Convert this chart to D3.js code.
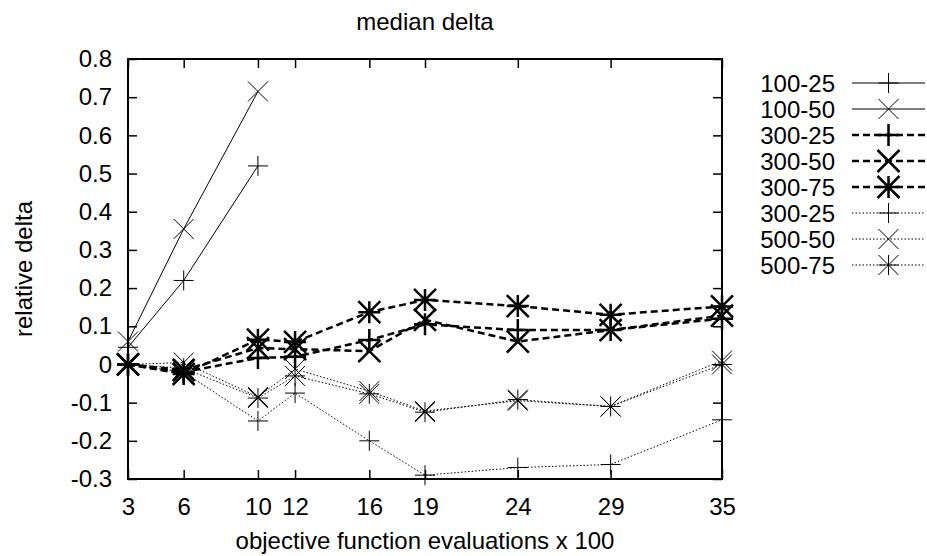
<!DOCTYPE html>
<html>
    <head>
        <script src="https://cdnjs.cloudflare.com/ajax/libs/d3/7.8.5/d3.min.js"></script>
        <title>median delta</title>
        <style>
            html, body {
                margin: 0;
                background: white;
            }
            .svg_canvas {
                display: block;
                font-family: "Liberation Sans", Arial, sans-serif;
            }
            .tick line {
                stroke: black;
                stroke-width: 1.5;
            }
            .tick text {
                font-size: 24px;
                fill: black;
            }
        </style>
    </head>
    <body>
        <svg height="556" width="927" class="svg_canvas"></svg>

        <script>
            var evaluations = [3, 6, 10, 12, 16, 19, 24, 29, 35];
            var yTicks = [-0.3, -0.2, -0.1, 0, 0.1, 0.2, 0.3, 0.4, 0.5, 0.6, 0.7, 0.8];

            var seriesNames = ["100-25", "100-50", "300-25", "300-50", "300-75", "300-25", "500-50", "500-75"];

            // values per series, aligned with evaluations (null = not measured)
            var s100_25 = [0.045, 0.22, 0.52, null, null, null, null, null, null];
            var s100_50 = [0.06, 0.355, 0.715, null, null, null, null, null, null];
            var s300_25 = [0, -0.02, 0.017, 0.02, 0.064, 0.105, 0.09, 0.09, 0.12];
            var s300_50 = [0, -0.015, 0.043, 0.04, 0.035, 0.117, 0.06, 0.09, 0.128];
            var s300_75 = [0, -0.025, 0.065, 0.059, 0.137, 0.169, 0.153, 0.13, 0.152];
            var s500_25 = [0, -0.02, -0.148, -0.075, -0.2, -0.29, -0.27, -0.262, -0.145];
            var s500_50 = [0, 0.005, -0.085, -0.012, -0.07, -0.122, -0.095, -0.11, 0.01];
            var s500_75 = [0, -0.01, -0.088, -0.03, -0.077, -0.125, -0.092, -0.11, 0.0];

            var seriesValues = [s100_25, s100_50, s300_25, s300_50, s300_75, s500_25, s500_50, s500_75];
            var seriesMarker = ["plus", "cross", "plus", "cross", "star", "plus", "cross", "star"];
            var seriesStyle = ["solid", "solid", "dashed", "dashed", "dashed", "dotted", "dotted", "dotted"];

            var styles = {
                solid:  {width: 1,   dash: null,  size: 10, mw: 1},
                dashed: {width: 2.5, dash: "7,4", size: 11, mw: 2.5},
                dotted: {width: 1,   dash: "1.5,2", size: 10, mw: 1}
            };

            var plotLeft = 128, plotRight = 722, plotTop = 59, plotBottom = 479;

            var x = d3.scaleLinear().domain([3, 35]).range([plotLeft, plotRight]);
            var y = d3.scaleLinear().domain([-0.3, 0.8]).range([plotBottom, plotTop]);

            var svg = d3.select(".svg_canvas");

            function markerPath(type, cx, cy, h) {
                var p = d3.path();
                if (type == "plus" || type == "star") {
                    p.moveTo(cx - h, cy); p.lineTo(cx + h, cy);
                    p.moveTo(cx, cy - h); p.lineTo(cx, cy + h);
                }
                if (type == "cross" || type == "star") {
                    p.moveTo(cx - h, cy - h); p.lineTo(cx + h, cy + h);
                    p.moveTo(cx - h, cy + h); p.lineTo(cx + h, cy - h);
                }
                return p.toString();
            }

            // axes with inward ticks on all four sides
            var fmt = function(d){ return String(+d.toFixed(1)); };

            svg.append("g")
                .attr("transform", "translate(0," + plotBottom + ")")
                .call(d3.axisBottom(x).tickValues(evaluations).tickSize(-9).tickPadding(19).tickFormat(d3.format("d")))
                .call(function(g){ g.select(".domain").remove(); });

            svg.append("g")
                .attr("transform", "translate(0," + plotTop + ")")
                .call(d3.axisTop(x).tickValues(evaluations).tickSize(-9).tickFormat(""))
                .call(function(g){ g.select(".domain").remove(); });

            svg.append("g")
                .attr("transform", "translate(" + plotLeft + ",0)")
                .call(d3.axisLeft(y).tickValues(yTicks).tickSize(-9).tickPadding(16).tickFormat(fmt))
                .call(function(g){ g.select(".domain").remove(); });

            svg.append("g")
                .attr("transform", "translate(" + plotRight + ",0)")
                .call(d3.axisRight(y).tickValues(yTicks).tickSize(-9).tickFormat(""))
                .call(function(g){ g.select(".domain").remove(); });

            svg.selectAll(".tick text").attr("font-family", null).attr("font-size", null);

            svg.append("rect")
                .attr("x", plotLeft).attr("y", plotTop)
                .attr("width", plotRight - plotLeft).attr("height", plotBottom - plotTop)
                .attr("fill", "none").attr("stroke", "black").attr("stroke-width", 2);

            // series
            var line = d3.line()
                .defined(function(d){ return d.v !== null; })
                .x(function(d){ return x(d.e); })
                .y(function(d){ return y(d.v); });

            seriesValues.forEach(function(vals, i) {
                var st = styles[seriesStyle[i]];
                var pts = vals.map(function(v, j){ return {e: evaluations[j], v: v}; });
                var g = svg.append("g");
                g.append("path")
                    .attr("d", line(pts))
                    .attr("fill", "none")
                    .attr("stroke", "black")
                    .attr("stroke-width", st.width)
                    .attr("stroke-dasharray", st.dash);
                g.selectAll(".mk")
                    .data(pts.filter(function(d){ return d.v !== null; }))
                    .enter()
                    .append("path")
                    .attr("d", function(d){ return markerPath(seriesMarker[i], x(d.e), y(d.v), st.size); })
                    .attr("fill", "none")
                    .attr("stroke", "black")
                    .attr("stroke-width", st.mw);
            });

            // title and axis labels
            svg.append("text")
                .attr("x", (plotLeft + plotRight) / 2).attr("y", 30)
                .attr("text-anchor", "middle").attr("font-size", 24)
                .text("median delta");

            svg.append("text")
                .attr("x", (plotLeft + plotRight) / 2).attr("y", 549)
                .attr("text-anchor", "middle").attr("font-size", 24)
                .text("objective function evaluations x 100");

            svg.append("text")
                .attr("transform", "translate(32," + ((plotTop + plotBottom) / 2) + ") rotate(-90)")
                .attr("text-anchor", "middle").attr("font-size", 24)
                .text("relative delta");

            // legend
            var legend = svg.append("g");
            seriesNames.forEach(function(name, i) {
                var st = styles[seriesStyle[i]];
                var cy = 83 + i * 26;
                legend.append("text")
                    .attr("x", 835).attr("y", cy + 8.5)
                    .attr("text-anchor", "end").attr("font-size", 24)
                    .text(name);
                legend.append("line")
                    .attr("x1", 852).attr("x2", 925)
                    .attr("y1", cy).attr("y2", cy)
                    .attr("stroke", "black")
                    .attr("stroke-width", st.width)
                    .attr("stroke-dasharray", st.dash);
                legend.append("path")
                    .attr("d", markerPath(seriesMarker[i], 888.5, cy, st.size))
                    .attr("fill", "none")
                    .attr("stroke", "black")
                    .attr("stroke-width", st.mw);
            });
        </script>
    </body>
</html>
